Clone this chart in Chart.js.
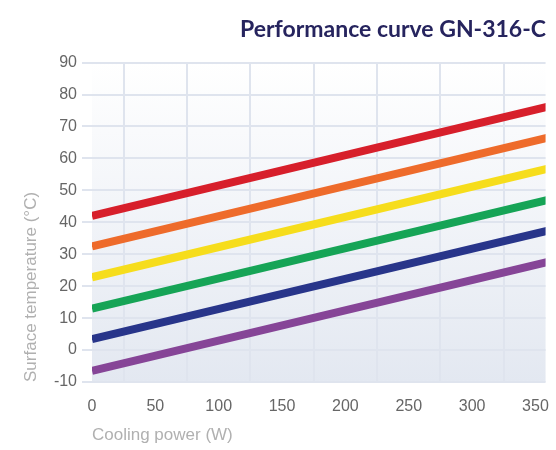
<!DOCTYPE html>
<html>
<head>
<meta charset="utf-8">
<script src="https://cdn.jsdelivr.net/npm/chart.js@4"></script>
<style>
  html, body { margin: 0; padding: 0; background: #fff; }
  #wrap { width: 556px; height: 450px; }
</style>
</head>
<body>
<div id="wrap"><canvas id="perfChart"></canvas></div>
<script>
const power = [0, 360]
const redLine = [42, 76.2]
const orangeLine = [32.5, 66.5]
const yellowLine = [22.8, 56.8]
const greenLine = [13, 47]
const navyLine = [3.4, 37.4]
const purpleLine = [-6.5, 27.6]
const xTicks = [0, 50, 100, 150, 200, 250, 300, 350]
const xGridAt = [25, 75, 125, 175, 225, 275, 325]

const series = [
    { data: redLine, color: '#d71f2b' },
    { data: orangeLine, color: '#ee6b2b' },
    { data: yellowLine, color: '#f6dd1c' },
    { data: greenLine, color: '#16a456' },
    { data: navyLine, color: '#28358a' },
    { data: purpleLine, color: '#864597' }
]

const plotBg = {
    id: 'plotBg',
    beforeDraw(chart) {
        const { ctx, chartArea: a } = chart
        const g = ctx.createLinearGradient(0, a.top, 0, a.bottom)
        g.addColorStop(0, '#ffffff')
        g.addColorStop(1, '#e3e8f1')
        ctx.save()
        ctx.fillStyle = g
        ctx.fillRect(a.left, a.top, a.right - a.left, a.bottom - a.top)
        ctx.restore()
    }
}

let perfChart = new Chart(document.getElementById('perfChart'), {
    type: 'line',
    data: {
        datasets: series.map(s => ({
            data: s.data.map((v, i) => ({ x: power[i], y: v })),
            borderColor: s.color,
            borderWidth: 8,
            pointRadius: 0,
            tension: 0
        }))
    },
    plugins: [plotBg],
    options: {
        responsive: true,
        maintainAspectRatio: false,
        animation: false,
        layout: { padding: { left: 0, right: 10, top: 0, bottom: 0 } },
        plugins: {
            legend: { display: false },
            tooltip: { enabled: false },
            title: {
                display: true,
                text: 'Performance curve GN-316-C',
                align: 'end',
                color: '#26245e',
                font: { family: 'Lato', size: 23, weight: 'bold', lineHeight: 1.2 },
                padding: { top: 16, bottom: 19 }
            }
        },
        scales: {
            x: {
                type: 'linear',
                min: 0,
                max: 358,
                afterBuildTicks: axis => { axis.ticks = xTicks.map(v => ({ value: v })) },
                ticks: {
                    maxRotation: 0,
                    autoSkip: false,
                    color: '#666',
                    font: { family: 'Liberation Sans', size: 16 },
                    padding: 7
                },
                grid: { display: false },
                border: { display: false },
                title: {
                    display: true,
                    text: 'Cooling power (W)',
                    align: 'start',
                    color: '#b0b0b0',
                    font: { family: 'Liberation Sans', size: 17 }
                },
                afterFit: axis => { axis.height = 68 }
            },
            xg: {
                type: 'linear',
                position: 'bottom',
                min: 0,
                max: 358,
                afterBuildTicks: axis => { axis.ticks = xGridAt.map(v => ({ value: v })) },
                ticks: { display: false },
                grid: { color: '#dfe4ee', lineWidth: 2, drawTicks: false },
                border: { display: false },
                afterFit: axis => { axis.height = 0 }
            },
            y: {
                min: -10,
                max: 90,
                ticks: {
                    stepSize: 10,
                    color: '#666',
                    font: { family: 'Liberation Sans', size: 16 },
                    padding: 5
                },
                grid: { color: '#dfe4ee', lineWidth: 2, tickLength: 10 },
                border: { display: false },
                title: {
                    display: true,
                    text: 'Surface temperature (°C)',
                    align: 'start',
                    color: '#b0b0b0',
                    font: { family: 'Liberation Sans', size: 17 },
                    padding: { top: 21, bottom: 0 }
                },
                afterFit: axis => { axis.width = 92 }
            }
        }
    }
})
</script>
</body>
</html>
